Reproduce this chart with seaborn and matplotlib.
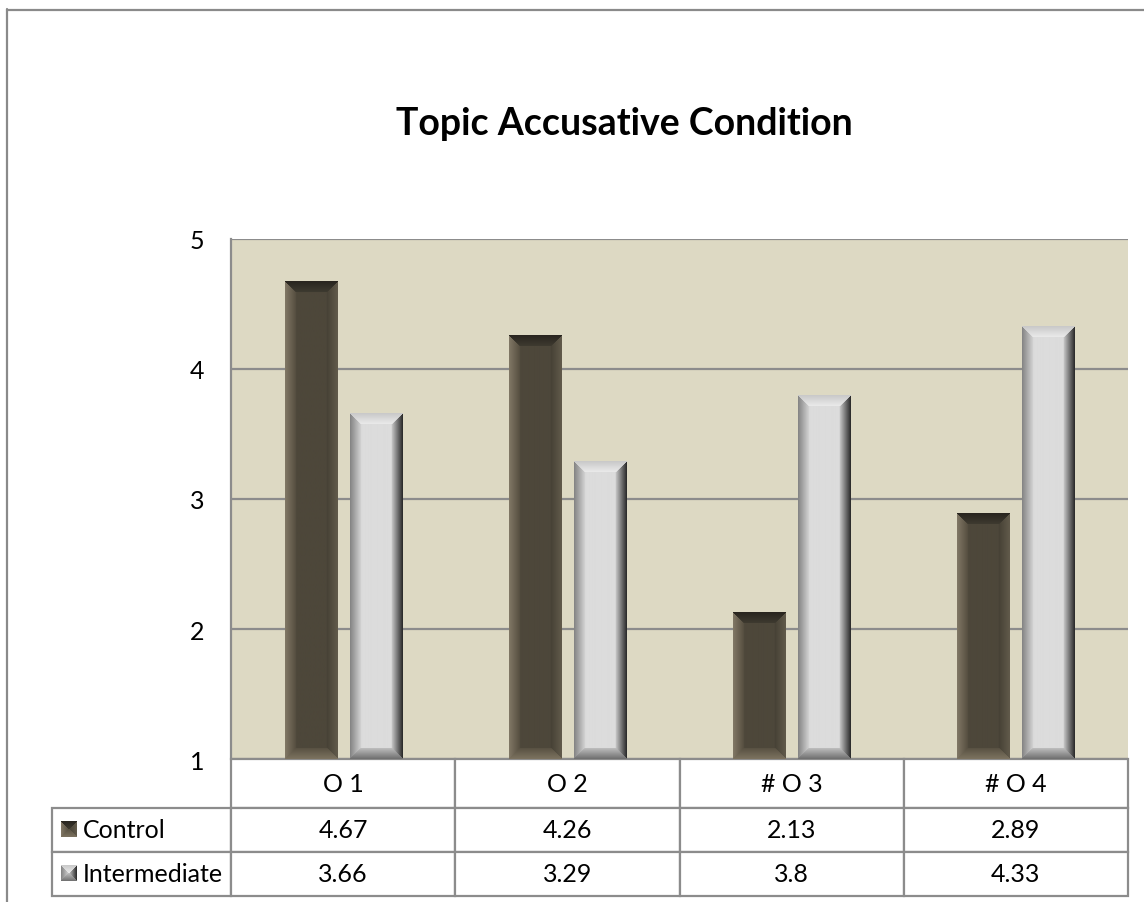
import numpy as np
import pandas as pd
import matplotlib
matplotlib.use("Agg")
import matplotlib.pyplot as plt
from matplotlib.lines import Line2D
import seaborn as sns

# ---- data -------------------------------------------------------------
categories = ["O 1", "O 2", "# O 3", "# O 4"]
groups = ["Control", "Intermediate"]
control = [4.67, 4.26, 2.13, 2.89]
intermediate = [3.66, 3.29, 3.8, 4.33]
y_ticks = [1, 2, 3, 4, 5]
title = "Topic Accusative Condition"

df = pd.DataFrame({
    "category": categories * 2,
    "group": [groups[0]] * len(categories) + [groups[1]] * len(categories),
    "value": control + intermediate,
})

# ---- style ------------------------------------------------------------
sns.set_style("white")
plt.rcParams["font.family"] = ["Lato", "DejaVu Sans"]

W, H, DPI = 1144, 903, 100
fig = plt.figure(figsize=(W / DPI, H / DPI), dpi=DPI)

# plot area in pixels (left, top, right, bottom)
pl, pt, pr, pb = 231, 240, 1128, 760
ax = fig.add_axes([pl / W, 1 - pb / H, (pr - pl) / W, (pb - pt) / H])
ax.set_facecolor("#ddd9c3")

face_cols = {"Control": "#4d473a", "Intermediate": "#dcdcdc"}
sns.barplot(data=df, x="category", y="value", hue="group",
            order=categories, hue_order=groups,
            palette=[face_cols[g] for g in groups], saturation=1,
            width=0.58, gap=0.2, errorbar=None, legend=False,
            linewidth=0, ax=ax)

ax.set_ylim(y_ticks[0], y_ticks[-1])
ax.set_xlim(-0.5, len(categories) - 0.5)
ax.set_yticks(y_ticks)
ax.set_xticks([])
ax.set_xlabel("")
ax.set_ylabel("")
ax.set_axisbelow(True)
ax.yaxis.grid(True, color="#8c8c8c", lw=1.6)
ax.xaxis.grid(False)
ax.tick_params(axis="y", length=0, pad=19, labelsize=18, labelcolor="black")
for side in ["top", "right", "bottom"]:
    ax.spines[side].set_visible(False)
ax.spines["left"].set_color("#8c8c8c")
ax.spines["left"].set_linewidth(1.6)

# ---- bevelled bar faces ---------------------------------------------
bevels = {
    # facets: top, bottom, left, right as (edge rgb, inner rgb)
    "Control": [((40, 37, 31), (62, 58, 48)),
                ((125, 115, 96), (88, 81, 66)),
                ((130, 120, 102), (84, 77, 63)),
                ((98, 91, 76), (70, 65, 53))],
    "Intermediate": [((200, 200, 200), (234, 234, 234)),
                     ((110, 110, 110), (190, 190, 190)),
                     ((130, 130, 130), (212, 212, 212)),
                     ((38, 38, 38), (200, 200, 200))],
}


def bevel_image(w, h, b, facets, face):
    ys, xs = np.mgrid[0:h, 0:w] + 0.5
    d = np.stack([ys, h - ys, xs, w - xs])
    idx = d.argmin(axis=0)
    dmin = d.min(axis=0)
    img = np.empty((h, w, 3))
    img[:] = np.array(matplotlib.colors.to_rgb(face))
    for k, (edge, inner) in enumerate(facets):
        m = (idx == k) & (dmin < b)
        t = (dmin[m] / b)[:, None]
        img[m] = (np.array(edge) * (1 - t) + np.array(inner) * t) / 255
    return img


px_per_x = (pr - pl) / len(categories)
px_per_y = (pb - pt) / (y_ticks[-1] - y_ticks[0])
n = len(categories)
for i, bar in enumerate(ax.patches):
    g = groups[i // n]
    x0, w = bar.get_x(), bar.get_width()
    top = bar.get_y() + bar.get_height()
    bot = max(bar.get_y(), y_ticks[0])
    wp = max(int(round(w * px_per_x)), 2)
    hp = max(int(round((top - bot) * px_per_y)), 2)
    img = bevel_image(wp, hp, 11, bevels[g], face_cols[g])
    ax.imshow(img, extent=[x0, x0 + w, bot, top], aspect="auto",
              interpolation="bilinear", zorder=3)
ax.set_xlim(-0.5, len(categories) - 0.5)
ax.set_ylim(y_ticks[0], y_ticks[-1])

# ---- data table -------------------------------------------------------
ax_h = pb - pt
ax_w = pr - pl
label_w = (pl - 52) / ax_w
cell_text = [[f"{v:g}" for v in control], [f"{v:g}" for v in intermediate]]
tbl = ax.table(cellText=cell_text, rowLabels=groups, colLabels=categories,
               loc="bottom", cellLoc="center", rowLoc="left",
               colWidths=[1 / len(categories)] * len(categories))
tbl._autoColumns = []          # keep the fixed row-label column width
tbl.auto_set_font_size(False)
tbl.set_fontsize(18)
for (r, c), cell in tbl.get_celld().items():
    cell.set_edgecolor("#8c8c8c")
    cell.set_linewidth(1.6)
    cell.set_facecolor("white")
    cell.set_height((49 if r == 0 else 44) / ax_h)
    if c == -1:
        cell.set_width(label_w)
        cell.PAD = 31 / (pl - 52)
    cell.get_text().set_color("black")

# legend keys in the row-label cells
key_rows = [(822, "Control"), (866, "Intermediate")]
for y_top, g in key_rows:
    kax = fig.add_axes([61 / W, 1 - (y_top + 16) / H, 16 / W, 16 / H])
    kax.imshow(bevel_image(16, 16, 8, bevels[g], face_cols[g]),
               aspect="auto", interpolation="bilinear")
    kax.axis("off")

# ---- title and outer frame -------------------------------------------
fig.text(624 / W, 1 - 135 / H, title, ha="center", va="baseline",
         fontsize=27, fontweight="bold", color="black")
fig.add_artist(Line2D([7 / W, 7 / W], [0, 1 - 10 / H], transform=fig.transFigure,
                      color="#8a8a8a", lw=1.6))
fig.add_artist(Line2D([7 / W, 1], [1 - 10.5 / H, 1 - 10.5 / H],
                      transform=fig.transFigure, color="#8a8a8a", lw=1.6))

fig.savefig("out.png", dpi=DPI, facecolor="white")
